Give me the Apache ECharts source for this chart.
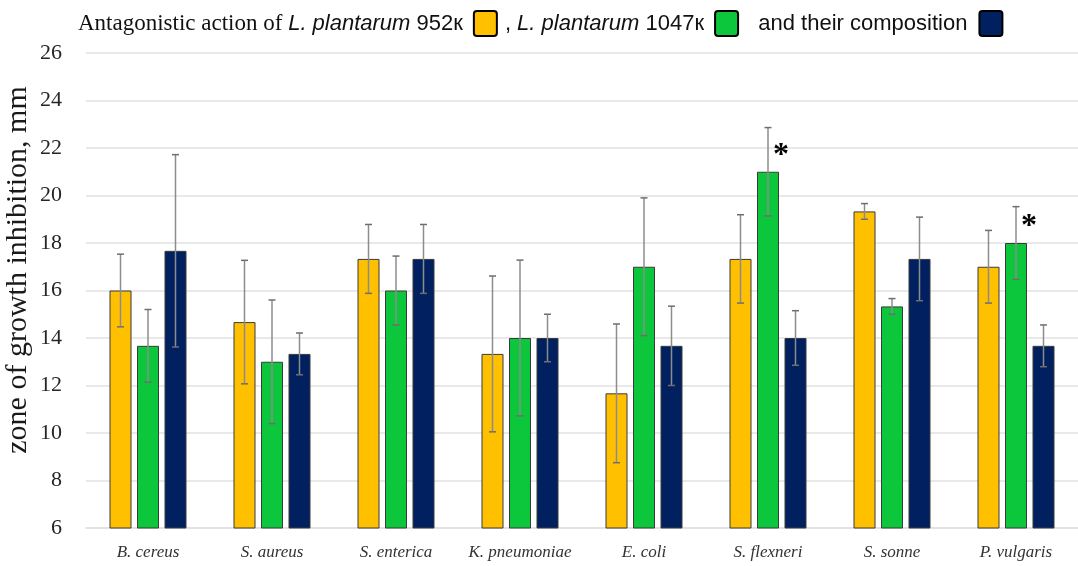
<!DOCTYPE html>
<html>
<head>
<meta charset="utf-8">
<script src="https://cdn.jsdelivr.net/npm/echarts@6/dist/echarts.min.js"></script>
<style>
  html, body { margin: 0; padding: 0; background: #fff; }
  #chart { width: 1078px; height: 566px; }
</style>
</head>
<body>
<div id="chart"></div>
<script>
// Pathogen strains tested
const categories = ['B. cereus', 'S. aureus', 'S. enterica', 'K. pneumoniae', 'E. coli', 'S. flexneri', 'S. sonne', 'P. vulgaris'];

// Zone of growth inhibition, mm (mean and standard deviation)
const mean952  = [16.0, 14.67, 17.33, 13.33, 11.67, 17.33, 19.33, 17.0];
const sd952    = [1.53, 2.6, 1.45, 3.28, 2.92, 1.86, 0.33, 1.53];
const mean1047 = [13.67, 13.0, 16.0, 14.0, 17.0, 21.0, 15.33, 18.0];
const sd1047   = [1.53, 2.6, 1.45, 3.28, 2.9, 1.86, 0.33, 1.53];
const meanMix  = [17.67, 13.33, 17.33, 14.0, 13.67, 14.0, 17.33, 13.67];
const sdMix    = [4.05, 0.88, 1.45, 1.0, 1.67, 1.15, 1.76, 0.88];

// Significance marks for the 1047к strain
const sig1047 = ['', '', '', '', '', '*', '', '*'];

// Axis range
const yMin = 6, yMax = 26, yStep = 2;

const colors = ['#FFC000', '#0CC63B', '#00205F'];
const names = ['952', '1047', 'mix'];
const means = [mean952, mean1047, meanMix];
const sds = [sd952, sd1047, sdMix];

const BAR_W = 22, BAR_GAP = 5.5;

function barSeries(i) {
  return {
    name: names[i],
    type: 'bar',
    barWidth: BAR_W,
    barGap: (BAR_GAP / BAR_W * 100) + '%',
    data: means[i],
    itemStyle: { color: colors[i], borderColor: '#3a3a3a', borderWidth: 1 },
    label: i === 1 ? {
      show: true,
      position: 'top',
      offset: [13, 5],
      formatter: p => sig1047[p.dataIndex],
      fontFamily: 'Liberation Serif',
      fontWeight: 'bold',
      fontSize: 32,
      color: '#000'
    } : { show: false },
    z: 2
  };
}

function errorSeries(i) {
  const data = means[i].map((m, k) => [k, m - sds[i][k], m + sds[i][k]]);
  return {
    type: 'custom',
    name: names[i] + '-err',
    data: data,
    encode: { x: 0, y: [1, 2] },
    z: 5,
    silent: true,
    renderItem: function (params, api) {
      const off = (i - 1) * (BAR_W + BAR_GAP);
      const lo = api.coord([api.value(0), api.value(1)]);
      const hi = api.coord([api.value(0), api.value(2)]);
      const x = lo[0] + off;
      const cap = 3.5;
      return {
        type: 'group',
        children: [
          { type: 'line', shape: { x1: x, y1: hi[1], x2: x, y2: lo[1] }, style: { stroke: '#8c8c8c', lineWidth: 1.5 } },
          { type: 'line', shape: { x1: x - cap, y1: hi[1], x2: x + cap, y2: hi[1] }, style: { stroke: '#6e6e6e', lineWidth: 1.5 } },
          { type: 'line', shape: { x1: x - cap, y1: lo[1], x2: x + cap, y2: lo[1] }, style: { stroke: '#6e6e6e', lineWidth: 1.5 } }
        ]
      };
    }
  };
}

const legendText = {
  '952':  '{s|Antagonistic action of }{i|L. plantarum}{e| 952к}',
  '1047': '{n|, }{i|L. plantarum}{e| 1047к}',
  'mix':  '{m|  and their composition}'
};

// small-radius rounded box used as the legend swatch
const swatch = 'path://M3,0 H20 Q23,0 23,3 V22 Q23,25 20,25 H3 Q0,25 0,22 V3 Q0,0 3,0 Z';

const chart = echarts.init(document.getElementById('chart'), null, { renderer: 'canvas' });

chart.setOption({
  animation: false,
  backgroundColor: '#fff',
  grid: { left: 86, right: 0, top: 53, bottom: 38 },
  legend: {
    left: 73,
    top: 5,
    align: 'right',
    itemGap: 7,
    itemWidth: 23,
    itemHeight: 25,
    icon: swatch,
    selectedMode: false,
    data: names.map((n, i) => ({
      name: n,
      itemStyle: { color: colors[i], borderColor: '#000', borderWidth: 2 }
    })),
    formatter: n => legendText[n],
    textStyle: {
      color: '#111',
      rich: {
        s: { fontFamily: 'Liberation Serif', fontSize: 23, color: '#111' },
        i: { fontFamily: 'Liberation Sans', fontStyle: 'italic', fontSize: 22, color: '#111' },
        n: { fontFamily: 'Liberation Sans', fontSize: 22, color: '#111' },
        e: { fontFamily: 'Liberation Sans', fontSize: 22, color: '#111', padding: [0, 6, 0, 0] },
        m: { fontFamily: 'Liberation Sans', fontSize: 22, color: '#111', padding: [0, 7, 0, 0] }
      }
    }
  },
  xAxis: {
    type: 'category',
    data: categories,
    axisLine: { show: true, lineStyle: { color: '#e0e0e0', width: 1.5 } },
    axisTick: { show: false },
    axisLabel: {
      interval: 0,
      hideOverlap: false,
      margin: 16,
      fontFamily: 'Liberation Serif',
      fontStyle: 'italic',
      fontSize: 17,
      color: '#333'
    }
  },
  yAxis: {
    type: 'value',
    min: yMin,
    max: yMax,
    interval: yStep,
    axisLine: { show: false },
    axisTick: { show: false },
    splitLine: { lineStyle: { color: '#e2e2e2', width: 1.5 } },
    axisLabel: {
      margin: 24,
      fontFamily: 'Liberation Serif',
      fontSize: 22,
      color: '#262626'
    }
  },
  graphic: [{
    type: 'text',
    x: 18,
    y: 270,
    rotation: Math.PI / 2,
    style: {
      text: 'zone of growth inhibition, mm',
      fontFamily: 'Liberation Serif',
      fontSize: 30,
      fill: '#1a1a1a',
      align: 'center',
      verticalAlign: 'middle'
    }
  }],
  series: [0, 1, 2].map(barSeries).concat([0, 1, 2].map(errorSeries))
});
</script>
</body>
</html>
